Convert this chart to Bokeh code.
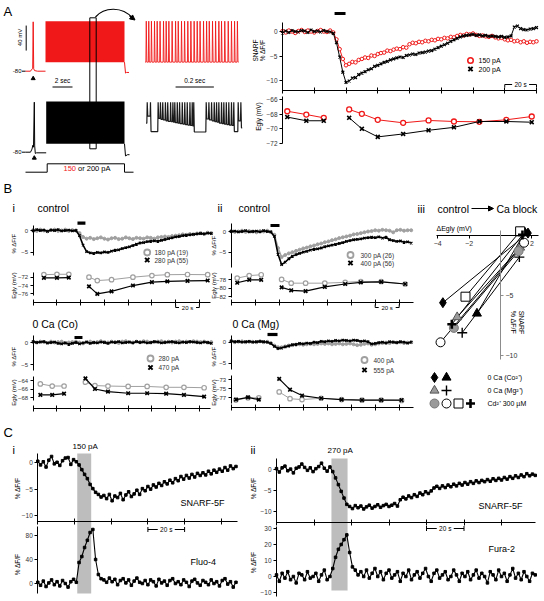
import numpy as np
from bokeh.plotting import figure
from bokeh.models import Range1d, LinearAxis, FixedTicker, Arrow, NormalHead
from bokeh.core.properties import value
from bokeh.embed import file_html
from bokeh.resources import INLINE

FONT = "Liberation Sans"
RED = "#f01818"
GRAY = "#a0a0a0"
BAND = "#bdbdbd"
NAN = float("nan")

# ======================= DATA =======================
# ---- A: current-clamp traces (long view in s / mV) ----
a_red_pre_t = [0.0, 0.5, 0.62, 0.72, 0.77, 0.82, 0.9, 1.2, 2.0]
a_red_pre_v = [-80, -80, -77, -76, -1, -76, -79, -80, -80]
a_red_block_t = [2.0, 9.9]
a_red_block_lo = [-65.5, -65.5]
a_red_block_hi = [0.0, 0.0]
a_red_post_t = [9.9, 10.0, 10.1, 10.35]
a_red_post_v = [-65.5, -83, -82, -82]
a_blk_pre_t = [0.0, 0.5, 0.65, 0.73, 0.8, 0.88, 0.92, 0.98, 1.1, 2.07]
a_blk_pre_v = [-80, -80, -75, -69, -72, 0, -70, -82, -81, -81]
a_blk_block_t = [2.07, 9.9]
a_blk_block_lo = [-66.5, -66.5]
a_blk_block_hi = [1.0, 1.0]
a_blk_post_t = [9.9, 10.0, 10.2, 10.4]
a_blk_post_v = [-66.5, -86, -84, -84]
a_step_t = [0.0, 2.17, 2.17, 9.9, 9.9, 10.8]
a_step_pa = [0, 0, 200, 200, 0, 0]
a_box_t = [6.43, 7.07]
# zoomed views (s)
a_red_spikes = [0.004, 0.017, 0.031, 0.047, 0.061, 0.076, 0.094, 0.108, 0.122, 0.139,
                0.157, 0.171, 0.188, 0.204, 0.221, 0.237, 0.254, 0.270, 0.285, 0.303,
                0.319, 0.333, 0.350, 0.366, 0.383, 0.397, 0.414, 0.432, 0.449, 0.465, 0.480]
a_red_peak, a_red_trough = 0.0, -65.5
a_blk_spikes = [0.009, 0.026, 0.066, 0.078, 0.090, 0.104, 0.116, 0.131, 0.143, 0.153,
                0.166, 0.178, 0.192, 0.205, 0.218, 0.232, 0.244, 0.252, 0.317, 0.331,
                0.345, 0.359, 0.371, 0.383, 0.397, 0.409, 0.422, 0.435, 0.449, 0.461,
                0.484, 0.498]
a_blk_troughs = [-30, -63, -35, -37, -38, -40, -41, -42, -43, -44, -45, -46, -47, -48, -49,
                 -50, -51, -64, -36, -38, -40, -42, -43, -45, -46, -47, -48, -49, -50, -63,
                 -40, -55]

# ---- A right: SNARF %dF/F (t every 2 s) and Egly ----
a_time = np.arange(0, 161, 2)
a_snarf_150 = [0.1, -0.2, 0.2, 0.0, -0.3, 0.1, 0.3, -0.1, 0.2, 0.0, -0.2, 0.1, 0.3, 0.0, -0.1, 0.2,
               -0.2, -1.6, -3.6, -5.6, -6.9, -6.6, -6.2, -6.3, -5.8, -5.6, -5.3, -5.4, -4.9, -5.0,
               -4.6, -4.4, -4.3, -3.9, -4.0, -3.7, -3.5, -3.6, -3.2, -3.3, -2.6, -2.3, -2.4, -2.1,
               -2.2, -1.9, -2.0, -1.7, -1.8, -1.5, -1.6, -1.3, -1.4, -1.1, -1.2, -0.9, -0.7, -0.8,
               -0.5, -0.6, -0.4, -0.7, -0.9, -0.8, -1.0, -1.1, -0.9, -1.2, -1.4, -1.3, -1.6, -1.8,
               -1.7, -2.0, -1.9, -2.2, -2.0, -2.3, -2.1, -2.2, -2.0]
a_snarf_200 = [-0.3, 0.1, -0.2, 0.2, 0.0, -0.1, 0.2, 0.1, -0.2, 0.3, 0.0, 0.1, -0.1, 0.2, 0.0, -0.1,
               -0.4, -2.3, -5.2, -8.3, -10.4, -10.1, -9.5, -9.4, -8.8, -8.5, -8.2, -7.8, -7.6, -7.1,
               -6.9, -6.6, -6.3, -6.1, -5.8, -5.6, -5.4, -5.2, -5.3, -4.9, -4.8, -4.6, -4.7, -4.4,
               -4.3, -4.2, -4.0, -3.9, -3.6, -3.3, -3.0, -2.7, -2.4, -2.0, -1.7, -1.4, -1.1, -0.9,
               -0.8, -0.7, -0.6, -0.8, -0.7, -0.9, -0.8, -1.0, -0.9, -1.0, -1.1, -1.0, -1.2, -1.1,
               -0.9, 0.9, 1.1, 0.6, 0.4, 0.3, 0.5, 0.6, 0.8]
a_stim = [32.8, 39.7]
a_egly_t_pre = [3, 15, 26]
a_egly_t_post = [42, 50, 60, 76, 92, 108, 124, 141, 157]
a_egly_150_pre = [-67.6, -68.05, -68.5]
a_egly_150_post = [-67.36, -67.95, -68.77, -69.18, -68.86, -69.0, -69.04, -68.77, -68.32]
a_egly_200_pre = [-68.4, -68.9, -68.9]
a_egly_200_post = [-68.5, -70.0, -71.1, -70.7, -70.2, -69.8, -69.0, -69.0, -69.1]

# ---- B: SNARF traces, t every 3 s ----
b_time = np.arange(0, 151, 3)
bi_ctrl_gray = [0.1, -0.1, 0.2, 0.0, -0.2, 0.1, 0.2, -0.1, 0.0, 0.2, -0.1, 0.1, 0.0,
                -0.6, -1.5, -1.9, -1.7, -2.0, -1.8, -1.6, -1.9, -2.1, -1.8,
                -1.7, -2.0, -1.9, -1.6, -1.8, -2.0, -1.7, -1.8, -1.9, -1.6,
                -1.7, -1.9, -1.6, -1.5, -1.4, -1.5, -1.3, -1.2, -1.1, -0.9,
                -1.0, -0.8, -0.9, -0.7, -0.6, -0.8, -0.5, -0.6]
bi_ctrl_black = [-0.1, 0.2, 0.0, 0.1, -0.2, 0.1, 0.0, 0.2, -0.1, 0.0, 0.1, -0.1, 0.0,
                 -1.2, -3.4, -4.9, -5.2, -5.3, -5.1, -5.2, -5.0, -5.1, -4.8,
                 -4.6, -4.5, -4.2, -4.0, -3.8, -3.5, -3.2, -2.9, -2.8, -2.6,
                 -2.5, -2.4, -2.5, -2.3, -2.1, -1.9, -1.7, -1.5, -1.4, -1.2,
                 -1.1, -1.0, -0.9, -0.8, -0.7, -0.8, -0.6, -0.7]
bi_0ca_gray = [0.1, 0.0, 0.2, 0.1, -0.1, 0.2, 0.0, 0.1, 0.2, -0.1,
               0.0, 0.1, 0.2, 0.0, -0.2, 0.1, 0.2, 0.0, 0.1, 0.3,
               0.1, 0.0, 0.2, 0.1, -0.1, 0.2, 0.3, 0.1, 0.0, 0.2,
               0.1, 0.3, 0.2, 0.0, 0.1, 0.2, 0.3, 0.1, 0.2, 0.0,
               0.2, 0.3, 0.1, 0.2, 0.1, 0.3, 0.2, 0.1, 0.2, 0.0, 0.1]
bi_0ca_black = [0.2, 0.0, 0.1, 0.2, -0.1, 0.0, 0.1, -0.2, -0.3, -0.1,
                -0.4, -0.2, 0.0, -0.3, -0.1, 0.1, -0.2, 0.0, -0.1, 0.1,
                0.0, -0.2, 0.1, 0.0, 0.2, -0.1, 0.0, 0.1, -0.1, 0.2,
                0.0, 0.1, -0.1, 0.0, 0.2, 0.1, -0.1, 0.0, 0.1, 0.2,
                0.0, -0.1, 0.1, 0.0, 0.2, 0.1, 0.0, -0.1, 0.1, 0.0, -0.2]
bii_ctrl_gray = [0.1, -0.1, 0.0, 0.2, -0.1, 0.1, 0.0, -0.2, 0.1, 0.0, 0.2, -0.1,
                 -0.8, -4.0, -6.2, -5.7, -5.3, -5.0, -4.7, -4.4, -4.1, -3.9,
                 -3.6, -3.4, -3.1, -2.9, -2.6, -2.4, -2.1, -1.9, -1.6, -1.4,
                 -1.2, -1.0, -0.7, -0.6, -0.4, -0.2, 0.0, 0.1, 0.3, 0.2,
                 0.4, 0.3, 0.2, -0.2, 0.3, 0.4, 0.2, 0.3, 0.3]
bii_ctrl_black = [0.0, 0.1, -0.1, 0.0, 0.2, -0.1, 0.0, 0.1, -0.1, 0.2, 0.0, -0.1,
                  -1.2, -5.5, -8.0, -7.4, -6.6, -6.0, -5.6, -5.3, -5.0, -4.8,
                  -4.5, -4.3, -4.2, -4.0, -3.7, -3.5, -3.3, -3.1, -2.9, -2.7,
                  -2.4, -2.2, -2.0, -1.9, -1.8, -1.6, -1.5, -1.4, -1.5, -1.3,
                  -1.6, -1.4, -2.0, -2.2, -2.4, -2.3, -2.6, -2.5, -2.8]
bii_0ca_gray = [0.2, 0.0, 0.1, 0.2, 0.0, 0.1, 0.1, 0.0, 0.2, 0.0, 0.1,
                -0.2, -0.8, -1.2, -1.2, -1.0, -0.8, -0.7, -0.6, -0.5, -0.6,
                -0.5, -0.4, -0.5, -0.4, -0.3, -0.4, -0.3, -0.5, -0.4, -0.3,
                -0.5, -0.4, -0.3, -0.5, -0.7, -0.6, -0.4, -0.3, -0.6, -0.5,
                -0.3, -0.2, -0.1, -0.2, 0.0, -0.1, 0.0, -0.2, -0.1, 0.0]
bii_0ca_black = [0.3, 0.1, 0.2, 0.0, 0.1, 0.2, 0.0, 0.1, 0.2, 0.1, 0.0,
                 -0.3, -1.0, -1.5, -1.4, -1.1, -0.9, -0.6, -0.5, -0.3, -0.4,
                 -0.2, -0.3, 0.0, -0.1, 0.2, 0.1, 0.3, 0.2, 0.4, 0.3,
                 0.5, 0.4, 0.3, 0.5, 0.4, 0.2, 0.3, 0.1, -0.4, -0.3,
                 -0.1, 0.0, -0.2, 0.1, 0.0, -0.1, 0.1, 0.0, -0.2, 0.0]
bi_stim_ctrl, bi_stim_0ca = [37.3, 44.0], [34.8, 41.5]
bii_stim_ctrl, bii_stim_0ca = [32.75, 40.25], [30.25, 38.6]
# B Egly (mV)
bi_egly_t_pre = [9, 20, 30]
bi_egly_t_post = [47, 54, 66, 84, 100, 113, 130, 147]
bi_ctrl_egly_gray_pre = [-71.4, -71.3, -71.3]
bi_ctrl_egly_gray_post = [-72.0, -72.8, -72.6, -72.0, -71.6, -71.4, -71.35, -71.4]
bi_ctrl_egly_black_pre = [-72.15, -72.15, -72.1]
bi_ctrl_egly_black_post = [-74.2, -76.0, -75.4, -74.0, -73.2, -73.0, -72.9, -72.8]
bi0_egly_t_pre = [6, 16, 26]
bi0_egly_t_post = [44, 52, 63, 80, 96, 112, 127, 144]
bi_0ca_egly_gray_pre = [-64.8, -65.3, -65.3]
bi_0ca_egly_gray_post = [-64.4, -65.2, -65.3, -65.4, -65.4, -65.6, -65.6, -65.7]
bi_0ca_egly_black_pre = [-67.4, -67.4, -67.1]
bi_0ca_egly_black_post = [-63.5, -66.0, -66.6, -67.0, -67.0, -67.1, -67.4, -67.8]
bii_egly_t_pre = [5, 15, 25]
bii_egly_t_post = [42, 50, 62, 78, 95, 108, 125, 145]
bii_ctrl_egly_gray_pre = [-77.6, -77.0, -76.8]
bii_ctrl_egly_gray_post = [-77.9, -78.8, -78.8, -78.8, -78.6, -78.4, -78.4, -79.0]
bii_ctrl_egly_black_pre = [-78.7, -78.0, -78.0]
bii_ctrl_egly_black_post = [-79.8, -80.5, -80.7, -79.7, -79.0, -78.6, -78.5, -79.0]
bii0_egly_t_pre = [4, 14, 23]
bii0_egly_t_post = [40, 49, 59, 75, 92, 109, 125, 142]
bii_0ca_egly_gray_pre = [-77.5, -77.0, -77.0]
bii_0ca_egly_gray_post = [-75.7, -77.2, -77.4, -77.1, -77.4, -77.5, -77.5, -77.6]
bii_0ca_egly_black_pre = [-77.4, -76.9, -77.4]
bii_0ca_egly_black_post = [-72.8, -75.2, -76.5, -77.1, -77.4, -77.5, -77.5, -77.5]

# ---- B iii: control -> Ca block (dEgly mV, SNARF %dF/F) ----
b3_ctl_x = [-3.67, -1.5, -2.76, -2.44, -2.97, -3.82, -2.23, -3.1]
b3_ctl_y = [-5.6, -6.5, -6.8, -8.1, -7.7, -8.9, -5.1, -7.4]
b3_blk_x = [1.75, 1.55, 1.25, 1.2, 1.15, 1.5, 1.25, 1.4]
b3_blk_y = [0.2, 0.25, -1.0, -1.8, -1.3, -0.6, 0.35, 0.05]
b3_legend = ["0 Ca (Co\u00b2\u207a)", "0 Ca (Mg\u00b2\u207a)", "Cd\u00b2\u207a 300 \u00b5M"]

# ---- C: t every 1.5 s ----
ci_time = np.arange(0, 108.01, 1.5)
ci_snarf = [0.3, -0.4, 0.2, -0.8, 0.5, 1.2, -0.2, 0.1, -0.5, 0.4, 0.9, 1.0, -0.3, 0.6, 0.2,
            -0.4, -1.3, -2.2, -3.0, -4.1, -4.9, -5.6, -6.0, -6.5, -6.2,
            -6.8, -6.0, -7.2, -6.3, -6.6, -5.8, -7.0, -6.1, -5.5, -6.4,
            -5.9, -5.2, -6.0, -4.9, -5.3, -4.5, -5.0, -4.2, -4.6, -3.9,
            -4.3, -3.6, -4.0, -3.3, -3.8, -3.0, -3.4, -2.6, -3.1, -2.4,
            -2.9, -2.2, -2.7, -2.0, -2.4, -1.9, -2.3, -1.6, -2.1, -1.4,
            -1.8, -1.2, -1.6, -0.9, -1.4, -0.6, -1.1, -0.7]
ci_fluo = [2, -3, 4, -5, 1, 6, -2, 3, -4, 5, 0, -6, 3, 7, 2,
           35, 45, 60, 72, 85, 90, 40, 15, 8, 6,
           2, 9, 3, 7, -2, 5, 8, 1, 6, -3,
           4, 9, 2, 0, 5, -2, 6, 3, -4, 7,
           1, 4, -3, 5, 8, 0, 3, -2, 6, 2,
           -5, 4, 7, 1, -3, 5, 2, -2, 6, 0,
           3, -4, 5, 8, -1, 3, -6, 2]
ci_band = [21.5, 29.1]
cii_time = np.arange(0, 138.01, 1.5)
cii_snarf = [0.2, -0.6, 0.4, 0.8, -0.3, 0.1, -0.8, 0.3, 0.6, 1.3, 0.5, -0.2, 0.4, -0.5, 0.2, 0.7, 1.5, 0.3, -0.4, 0.6,
             -0.5, -2.0, -3.6, -5.2, -6.8, -8.3, -8.8, -9.3, -8.6, -9.1,
             -8.7, -9.4, -8.9, -8.5, -9.2, -8.8, -8.4, -9.0, -8.6, -8.3,
             -8.8, -8.5, -8.1, -8.7,
             -7.2, -6.6, -7.0, -6.3, -6.7, -6.0, -6.4, -5.6, -6.0, -5.3,
             -5.7, -5.1, -4.4, -4.0, -4.5, -3.9, -4.3, -3.7, -4.1, -3.5,
             -3.9, -3.3, -3.7, -3.1, -3.5, -2.9, -3.3, -2.7, -3.1, -2.6,
             -2.9, -2.4, -2.8, -2.2, -2.6, -2.1, -2.5, -1.9, -2.3, -1.7,
             -2.1, -1.5, -1.9, -1.3, -1.7, -1.0, -1.5, -1.1, -1.4]
cii_fura = [1, -3, 2, -1, 3, -2, 0, -4, 2, 1, -2, 3, -1, 0, 2, -3, 1, 4, -2, 0,
            5, 12, 17, 20, 23, 26, 15, 6, 4, 1,
            3, 0, 4, -1, 2, 5, 0, 3, -2, 2,
            4, -1, 1, 3, -3, 2, 0, 4, -2, 1,
            3, -1, 2, 5, 0, -3, 2, 4, -1, 1,
            3, -2, 0, 4, 1, -3, 2, 0, 3, -2,
            1, 4, -1, 2, 0, -4, 3, 1, -2, 4,
            0, 2, -3, 1, 5, -1, 2, -2, 3, 0,
            -3, 2, 1]
cii_band = [29.3, 37.9]

# ======================= FIGURE =======================
PW, PH = 544, 600
p = figure(width=PW, height=PH, x_range=Range1d(0, PW), y_range=Range1d(PH, 0),
           x_axis_type=None, y_axis_type=None, toolbar_location=None,
           output_backend="svg", min_border=0, title=None)
p.min_border_left = p.min_border_right = p.min_border_top = p.min_border_bottom = 0
p.outline_line_color = None
p.background_fill_color = "white"
p.border_fill_color = "white"

XP, YP, XR, YR = {}, {}, {}, {}


def xmap(name, px0, ppu, v0=0.0):
    XP[name] = (px0, ppu, v0)
    XR[name] = Range1d(v0 + (0 - px0) / ppu, v0 + (PW - px0) / ppu)


def ymap(name, py0, ppu, v0=0.0):
    YP[name] = (py0, ppu, v0)
    YR[name] = Range1d(v0 - (PH - py0) / ppu, v0 + (py0 - 0) / ppu)


def yv(name, py):
    py0, ppu, v0 = YP[name]
    return v0 - (py - py0) / ppu


xmap("Al", 25, 10.0)
xmap("Az", 145, 191.5)
ymap("Ar", 70.7, 0.625, -80)
ymap("Ab", 151.7, 0.625, -80)
ymap("Abz", 101.7, 0.466, 0)
ymap("Ai", 171.7, 0.042, 0)
xmap("At", 282, 254 / 160)
ymap("As", 31, 4.9)
ymap("Ae", 99, 7.33, -66)
xmap("Bit", 32.7, 1.187)
ymap("Bics", 230, 4.3)
ymap("Bice", 276.7, 4.17, -72)
ymap("Bi0s", 342, 4.4)
ymap("Bi0e", 380, 4.25, -64)
xmap("Biit", 230.7, 1.2)
ymap("Biics", 231, 4.13)
ymap("Biice", 279.3, 4.2, -78)
ymap("Bii0s", 341.7, 4.2)
ymap("Bii0e", 379.3, 4.5, -73)
xmap("B3x", 500, 15.7)
ymap("B3y", 235, 12.0)
xmap("Cit", 37.3, 1.835)
ymap("Cis", 462.3, 5.27)
ymap("Cif", 583, 0.6)
xmap("Ciit", 276, 1.875)
ymap("Ciis", 469, 4.2)
ymap("Ciif", 576, 1.6)
p.extra_x_ranges = XR
p.extra_y_ranges = YR


def T(x, y, s, size=7.0, align="left", base="middle", color="black", angle=0.0,
      xr="default", yr="default"):
    p.text(x=[x], y=[y], text=[s], x_range_name=xr, y_range_name=yr, angle=angle,
           text_font=value(FONT), text_font_size=value(f"{size}px"),
           text_align=value(align), text_baseline=value(base), text_color=color)


def add_axis(side, xr, yr, loc, bounds, ticks, labels=True, tin=0, tout=3,
             color="black", size="6.5px"):
    ax = LinearAxis(x_range_name=xr, y_range_name=yr, fixed_location=loc, bounds=bounds,
                    ticker=FixedTicker(ticks=list(ticks), minor_ticks=[]))
    ax.axis_line_color = color
    ax.major_tick_line_color = color
    ax.minor_tick_line_color = None
    ax.major_tick_in = tin
    ax.major_tick_out = tout
    ax.major_label_text_font = FONT
    ax.major_label_text_font_size = size
    ax.major_label_text_color = "#333333"
    ax.major_label_standoff = 2
    if not labels:
        ax.major_label_overrides = {float(t): "" for t in ticks}
    p.add_layout(ax, side)


def trace(t, v, xr, yr, color, marker, msize=3.5, lw=1.0, mlw=1.0, mfill=None):
    t = np.asarray(t, dtype=float)
    v = np.asarray(v, dtype=float)
    n = min(len(t), len(v))
    p.line(t[:n], v[:n], x_range_name=xr, y_range_name=yr, line_color=color, line_width=lw)
    if marker:
        p.scatter(t[:n], v[:n], x_range_name=xr, y_range_name=yr, marker=marker, size=msize,
                  line_color=color, fill_color=mfill, line_width=mlw)


def broken(a, b):
    return list(a) + [NAN] + list(b)


def scalebar(xr, t0, t1, py, label, ticks="up", size=6.5):
    ppu = XP[xr][1]
    mid = (t0 + t1) / 2
    gap = 8.5 / ppu
    p.segment(x0=[t0, mid + gap], y0=[py, py], x1=[mid - gap, t1], y1=[py, py],
              x_range_name=xr, line_color="black", line_width=1)
    if ticks == "up":
        ya, yb = py, py - 3
    elif ticks == "down":
        ya, yb = py, py + 3
    else:
        ya, yb = py - 2.5, py + 2.5
    p.segment(x0=[t0, t1], y0=[ya, ya], x1=[t0, t1], y1=[yb, yb], x_range_name=xr,
              line_color="black", line_width=1)
    T(mid, py, label, size=size, align="center", xr=xr)


def stimbar(xr, se, py):
    p.segment(x0=[se[0]], y0=[py], x1=[se[1]], y1=[py], x_range_name=xr,
              line_color="black", line_width=3.2)


def spike_path(times, troughs, peak, start_level, end_t):
    xs, ys = [times[0] - 0.006], [start_level]
    prev = start_level
    for t, tr in zip(times, troughs):
        xs += [t - 0.002, t, t + 0.003]
        ys += [prev, peak, tr]
        prev = tr
    xs.append(end_t)
    ys.append(prev)
    return xs, ys


# ======================= PANEL A =======================
T(3, 11, "A", size=13)
# long traces
p.line(a_red_pre_t, a_red_pre_v, x_range_name="Al", y_range_name="Ar", line_color=RED, line_width=1)
p.varea(x=a_red_block_t, y1=a_red_block_lo, y2=a_red_block_hi, x_range_name="Al",
        y_range_name="Ar", fill_color=RED)
p.line(a_red_post_t, a_red_post_v, x_range_name="Al", y_range_name="Ar", line_color=RED, line_width=1)
p.line(a_blk_pre_t, a_blk_pre_v, x_range_name="Al", y_range_name="Ab", line_color="black", line_width=1)
p.varea(x=a_blk_block_t, y1=a_blk_block_lo, y2=a_blk_block_hi, x_range_name="Al",
        y_range_name="Ab", fill_color="black")
p.line(a_blk_post_t, a_blk_post_v, x_range_name="Al", y_range_name="Ab", line_color="black", line_width=1)
# zoomed traces
rx, ry = spike_path(a_red_spikes, [a_red_trough] * len(a_red_spikes), a_red_peak, a_red_trough, 0.486)
p.line(rx, ry, x_range_name="Az", y_range_name="Ar", line_color=RED, line_width=0.9)
bx, by = spike_path(a_blk_spikes, a_blk_troughs, 0.0, -45, 0.505)
p.line(bx, by, x_range_name="Az", y_range_name="Abz", line_color="#1a1a1a", line_width=1.2)
# current step
p.line(a_step_t, a_step_pa, x_range_name="Al", y_range_name="Ai", line_color="black", line_width=1)
T(63, 167.6, "150", size=7.5, color=RED)
T(77.5, 167.6, "or 200 pA", size=7.5)
# box + curved arrow
p.quad(left=[a_box_t[0]], right=[a_box_t[1]], top=[17.3], bottom=[148.3], x_range_name="Al",
       fill_color=None, line_color="black", line_width=1)
p.bezier(x0=[95], y0=[16.5], x1=[132], y1=[17.5], cx0=[104], cy0=[6], cx1=[122], cy1=[6],
         line_color="black", line_width=1.2)
p.add_layout(Arrow(end=NormalHead(size=5, fill_color="black", line_color="black"),
                   x_start=129, y_start=15.2, x_end=134.5, y_end=19.5, line_width=1.2))
# scale bars / voltage marks
p.segment(x0=[25.7], y0=[-47], x1=[25.7], y1=[-7], y_range_name="Ar", line_color="black", line_width=1)
T(19.5, 37, "40 mV", size=6, align="center", angle=np.pi / 2)
for rng in ("Ar", "Ab"):
    p.segment(x0=[21.5], y0=[-80], x1=[25], y1=[-80], y_range_name=rng, line_color="black")
    T(21, -80, "-80", size=6, align="right", yr=rng)
p.scatter([a_red_pre_t[4], a_blk_pre_t[5]], [78, 157.5], x_range_name="Al", marker="triangle",
          size=4, fill_color="black", line_color="black")
p.segment(x0=[2.7], y0=[86.5], x1=[4.7], y1=[86.5], x_range_name="Al", line_color="black", line_width=1)
T(3.7, 80, "2 sec", size=6.5, align="center", xr="Al")
p.segment(x0=[0.157], y0=[86.5], x1=[0.357], y1=[86.5], x_range_name="Az", line_color="black", line_width=1)
T(0.257, 80, "0.2 sec", size=6.5, align="center", xr="Az")

# ---- A right ----
stimbar("At", a_stim, 13)
trace(a_time, a_snarf_150, "At", "As", RED, "circle", msize=3.5, mfill="white")
trace(a_time, a_snarf_200, "At", "As", "black", "x", msize=4, mlw=1.2)
trace(broken(a_egly_t_pre, a_egly_t_post), broken(a_egly_150_pre, a_egly_150_post), "At", "Ae",
      RED, "circle", msize=5, mlw=1.3, mfill="white")
trace(broken(a_egly_t_pre, a_egly_t_post), broken(a_egly_200_pre, a_egly_200_post), "At", "Ae",
      "black", "x", msize=5.5, mlw=1.6)
add_axis("left", "At", "As", 0, (yv("As", 90), 1.8), [0, -5, -10])
add_axis("below", "At", "As", yv("As", 90), (0, 160), range(0, 161, 20), labels=False, tin=3, tout=3)
add_axis("left", "At", "Ae", 0, (-72.0, -65.6), [-66, -68, -70, -72])
T(255, 50, "SNARF", size=6.5, align="center", angle=np.pi / 2)
T(262, 50, "% \u0394F/F", size=6.5, align="center", angle=np.pi / 2)
T(258, 116, "Egly (mV)", size=6.5, align="center", angle=np.pi / 2)
p.scatter([470], [60], marker="circle", size=5.5, line_color=RED, fill_color="white", line_width=1.5)
p.scatter([470], [68.5], marker="x", size=6, line_color="black", line_width=2)
T(478, 60, "150 pA", size=7)
T(478, 68.5, "200 pA", size=7)
scalebar("At", 140, 160, 84, "20 s", ticks="down")

# ======================= PANEL B =======================
T(3, 188, "B", size=13)
T(12, 207, "i", size=11)
T(37, 207, "control", size=10.5)
T(217, 207, "ii", size=11)
T(238, 207, "control", size=10.5)
T(417, 208, "iii", size=11)
T(437, 208, "control", size=10.5)
p.add_layout(Arrow(end=NormalHead(size=5, fill_color="black", line_color="black"),
                   x_start=471, y_start=208, x_end=493, y_end=208, line_width=1.2))
T(496, 208, "Ca block", size=10.5)
T(32, 323, "0 Ca (Co)", size=10.5)
T(232, 323, "0 Ca (Mg)", size=10.5)


def bpanel(xr, ys, ye, t, gray, black, tpre, tpost, egp, egq, ebp, ebq, stim, stim_py):
    stimbar(xr, stim, stim_py)
    trace(t, gray, xr, ys, GRAY, "circle", msize=3, lw=1.6, mfill=GRAY)
    trace(t, black, xr, ys, "black", "x", msize=3.5, lw=1.6, mlw=1.2)
    trace(broken(tpre, tpost), broken(egp, egq), xr, ye, GRAY, "circle", msize=4.5,
          lw=1.0, mlw=1.2, mfill="white")
    trace(broken(tpre, tpost), broken(ebp, ebq), xr, ye, "black", "x", msize=5, lw=1.2, mlw=1.6)


bpanel("Bit", "Bics", "Bice", b_time, bi_ctrl_gray, bi_ctrl_black, bi_egly_t_pre, bi_egly_t_post,
       bi_ctrl_egly_gray_pre, bi_ctrl_egly_gray_post, bi_ctrl_egly_black_pre, bi_ctrl_egly_black_post,
       bi_stim_ctrl, 222.7)
bpanel("Bit", "Bi0s", "Bi0e", b_time, bi_0ca_gray, bi_0ca_black, bi0_egly_t_pre, bi0_egly_t_post,
       bi_0ca_egly_gray_pre, bi_0ca_egly_gray_post, bi_0ca_egly_black_pre, bi_0ca_egly_black_post,
       bi_stim_0ca, 337)
bpanel("Biit", "Biics", "Biice", b_time, bii_ctrl_gray, bii_ctrl_black, bii_egly_t_pre, bii_egly_t_post,
       bii_ctrl_egly_gray_pre, bii_ctrl_egly_gray_post, bii_ctrl_egly_black_pre, bii_ctrl_egly_black_post,
       bii_stim_ctrl, 225)
bpanel("Biit", "Bii0s", "Bii0e", b_time, bii_0ca_gray, bii_0ca_black, bii0_egly_t_pre, bii0_egly_t_post,
       bii_0ca_egly_gray_pre, bii_0ca_egly_gray_post, bii_0ca_egly_black_pre, bii_0ca_egly_black_post,
       bii_stim_0ca, 334)

BS = "6px"
add_axis("left", "Bit", "Bics", 0, (-5.7, 1.2), [0, -5], size=BS)
add_axis("left", "Bit", "Bice", 0, (-76.4, -70.8), [-72, -74, -76], size=BS)
add_axis("below", "Bit", "Bice", yv("Bice", 301.7), (0, 149.5), range(0, 141, 20), labels=False, tin=3, tout=3)
add_axis("left", "Bit", "Bi0s", 0, (-6.3, 1.6), [0, -5], size=BS)
add_axis("left", "Bit", "Bi0e", 0, (-68.6, -63.0), [-64, -66, -68], size=BS)
add_axis("below", "Bit", "Bi0e", yv("Bi0e", 408), (0, 149.5), range(0, 141, 20), labels=False, tin=3, tout=3)
add_axis("left", "Biit", "Biics", 0, (-8.7, 1.9), [0, -5], size=BS)
add_axis("left", "Biit", "Biice", 0, (-82.3, -76.5), [-78, -80, -82], size=BS)
add_axis("below", "Biit", "Biice", yv("Biice", 302), (0, 151.5), range(0, 141, 20), labels=False, tin=3, tout=3)
add_axis("left", "Biit", "Bii0s", 0, (-6.5, 1.6), [0, -5], size=BS)
add_axis("left", "Biit", "Bii0e", 0, (-78.3, -72.0), [-73, -75, -77], size=BS)
add_axis("below", "Biit", "Bii0e", yv("Bii0e", 407.3), (0, 151.5), range(0, 141, 20), labels=False, tin=3, tout=3)

for xlab, ycs, yce, y0s, y0e in ((13, 243, 285, 356, 392), (213, 245, 285, 356, 392)):
    T(xlab, ycs, "% \u0394F/F", size=6, align="center", angle=np.pi / 2)
    T(xlab, yce, "Egly (mV)", size=6, align="center", angle=np.pi / 2)
    T(xlab, y0s, "% \u0394F/F", size=6, align="center", angle=np.pi / 2)
    T(xlab, y0e, "Egly (mV)", size=6, align="center", angle=np.pi / 2)

# legends of B i / B ii
for mx, tx, y1, y2, l1, l2 in ((146.7, 154, 252, 259.5, "180 pA (19)", "280 pA (55)"),
                               (350, 360, 254.5, 262.5, "300 pA (26)", "400 pA (56)"),
                               (150, 158, 358, 367, "280 pA", "470 pA"),
                               (364, 373, 359.5, 369.5, "400 pA", "555 pA")):
    p.scatter([mx], [y1], marker="circle", size=6, line_color=GRAY, fill_color="white", line_width=1.8)
    p.scatter([mx], [y2], marker="x", size=6, line_color="black", line_width=2)
    T(tx, y1, l1, size=6.5, color="#333333")
    T(tx, y2, l2, size=6.5, color="#333333")

scalebar("Bit", 120, 140, 307, "20 s", ticks="up", size=6)
scalebar("Biit", 120, 140, 307, "20 s", ticks="up", size=6)

# ---- B iii ----
B3_STYLE = [
    dict(marker="diamond", size=10, fill_color="black", line_color="black", line_width=1),
    dict(marker="triangle", size=9, fill_color="black", line_color="black", line_width=1),
    dict(marker="triangle", size=9, fill_color="#9a9a9a", line_color="#555555", line_width=1),
    dict(marker="cross", size=10, fill_color=None, line_color="black", line_width=1.4),
    dict(marker="circle", size=9, fill_color="#9a9a9a", line_color="#777777", line_width=1),
    dict(marker="circle", size=9, fill_color="white", line_color="black", line_width=1),
    dict(marker="square", size=9, fill_color="white", line_color="black", line_width=1),
    dict(marker="cross", size=9, fill_color=None, line_color="black", line_width=2.6),
]
p.segment(x0=b3_ctl_x, y0=b3_ctl_y, x1=b3_blk_x, y1=b3_blk_y, x_range_name="B3x",
          y_range_name="B3y", line_color="black", line_width=1)
add_axis("below", "B3x", "B3y", 0, (-4.05, 2.45), [-4, -2, 2], tin=0, tout=3, size="7px")
add_axis("right", "B3x", "B3y", 0, (-10.3, 0.45), [-5, -10], tin=0, tout=3, color="#8c8c8c", size="7px")
for i, st in enumerate(B3_STYLE):
    p.scatter([b3_ctl_x[i], b3_blk_x[i]], [b3_ctl_y[i], b3_blk_y[i]], x_range_name="B3x",
              y_range_name="B3y", **st)
T(436, 228, "\u0394Egly (mV)", size=7)
T(521, 322, "SNARF", size=7, align="center", angle=-np.pi / 2)
T(513, 322, "% \u0394F/F", size=7, align="center", angle=-np.pi / 2)
# legend of B iii
legend_rows = [(377, [0, 1]), (390, [2, 3]), (403, [4, 5, 6, 7])]
for (ly, idx), lab in zip(legend_rows, b3_legend):
    for k, i in enumerate(idx):
        p.scatter([434 + 12 * k], [ly], **B3_STYLE[i])
    T(487, ly, lab, size=7)

# ======================= PANEL C =======================
T(3, 432, "C", size=13)
T(12, 449, "i", size=11)
T(72, 446, "150 pA", size=8)
T(250, 449, "ii", size=11)
T(327, 450, "270 pA", size=8)
p.quad(left=[ci_band[0]], right=[ci_band[1]], top=[453], bottom=[593], x_range_name="Cit",
       fill_color=BAND, line_color=None)
p.quad(left=[cii_band[0]], right=[cii_band[1]], top=[458], bottom=[590], x_range_name="Ciit",
       fill_color=BAND, line_color=None)
trace(ci_time, ci_snarf, "Cit", "Cis", "black", "square", msize=2.5, lw=1.1, mfill="black")
trace(ci_time, ci_fluo, "Cit", "Cif", "black", "square", msize=2.5, lw=1.1, mfill="black")
trace(cii_time, cii_snarf, "Ciit", "Ciis", "black", "square", msize=2.5, lw=1.1, mfill="black")
trace(cii_time, cii_fura, "Ciit", "Ciif", "black", "square", msize=2.5, lw=1.1, mfill="black")
CS = "6.5px"
add_axis("left", "Cit", "Cis", 0, (yv("Cis", 520.7), 1.76), [0, -5, -10], size=CS)
add_axis("below", "Cit", "Cis", yv("Cis", 520.7), (0, 108.7), range(0, 101, 20), labels=False, tin=3, tout=3)
add_axis("left", "Cit", "Cif", 0, (-17, 95), [0, 40, 80], size=CS)
add_axis("left", "Ciit", "Ciis", 0, (yv("Ciis", 521.7), 2.6), [0, -5, -10], size=CS)
add_axis("below", "Ciit", "Ciis", yv("Ciis", 521.7), (0, 138), range(0, 121, 20), labels=False, tin=3, tout=3)
add_axis("left", "Ciit", "Ciif", 0, (-12.5, 31), [-10, 0, 10, 20, 30], size=CS)
T(17, 488, "% \u0394F/F", size=6.5, align="center", angle=np.pi / 2)
T(17, 564, "% \u0394F/F", size=6.5, align="center", angle=np.pi / 2)
T(253, 488, "% \u0394F/F", size=6.5, align="center", angle=np.pi / 2)
T(253, 562, "% \u0394F/F", size=6.5, align="center", angle=np.pi / 2)
T(180, 502, "SNARF-5F", size=9)
T(190, 561, "Fluo-4", size=9)
T(478, 505, "SNARF-5F", size=9)
T(488, 548, "Fura-2", size=9)
scalebar("Cit", 60, 80, 529, "20 s", ticks="both")
scalebar("Ciit", 80, 100, 528, "20 s", ticks="both")

open("out.html", "w").write(file_html(p, INLINE))
